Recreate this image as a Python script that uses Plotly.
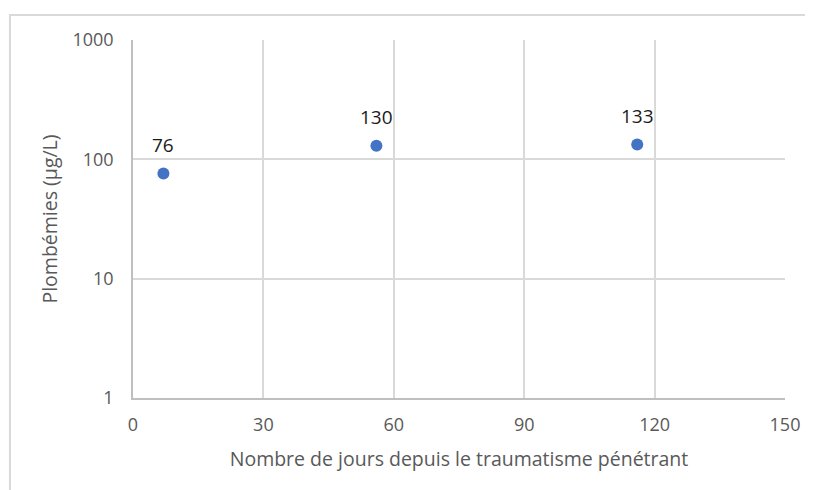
import plotly.graph_objects as go
import math

jours = [7, 56, 116]
plombemies = [76, 130, 133]
x_ticks = [0, 30, 60, 90, 120, 150]
y_ticks = [1, 10, 100, 1000]

FONT = "Open Sans, sans-serif"
fig = go.Figure()
fig.add_trace(go.Scatter(
    x=jours, y=plombemies, mode="markers",
    marker=dict(size=12, color="#4472C4"),
    showlegend=False, hoverinfo="skip"))

for xv, yv in zip(jours, plombemies):
    fig.add_annotation(x=xv, y=math.log10(yv), text=str(yv), showarrow=False,
                       yshift=29, font=dict(family=FONT, size=19, color="#1a1a1a"))

# outer chart border (page body adds 8px offset)
fig.add_shape(type="rect", xref="paper", yref="paper",
              x0=-0.1887, x1=1.06, y0=-0.3, y1=1.0698,
              line=dict(color="#d9d9d9", width=2), layer="below")

fig.update_layout(
    width=805, height=482,
    margin=dict(l=125, r=28, t=32, b=92),
    paper_bgcolor="white", plot_bgcolor="white",
    font=dict(family=FONT, color="#595959", size=18),
    xaxis=dict(range=[0, 150], tickvals=x_ticks, ticktext=[str(v) for v in x_ticks],
               showgrid=True, gridcolor="#d9d9d9", gridwidth=1.5,
               showline=True, linecolor="#bfbfbf", linewidth=1.5,
               zeroline=False, ticks="outside", ticklen=10, tickcolor="rgba(0,0,0,0)",
               tickfont=dict(size=18),
               title=dict(text="Nombre de jours depuis le traumatisme pénétrant",
                          font=dict(size=19.5), standoff=17)),
    yaxis=dict(type="log", range=[0, 3], tickvals=y_ticks, ticktext=[str(v) for v in y_ticks],
               showgrid=True, gridcolor="#d9d9d9", gridwidth=1.5,
               showline=True, linecolor="#bfbfbf", linewidth=1.5,
               zeroline=False, ticks="outside", ticklen=14, tickcolor="rgba(0,0,0,0)",
               tickfont=dict(size=18),
               title=dict(text="Plombémies (µg/L)", font=dict(size=19.5), standoff=10)),
)
fig.write_html("out.html")
